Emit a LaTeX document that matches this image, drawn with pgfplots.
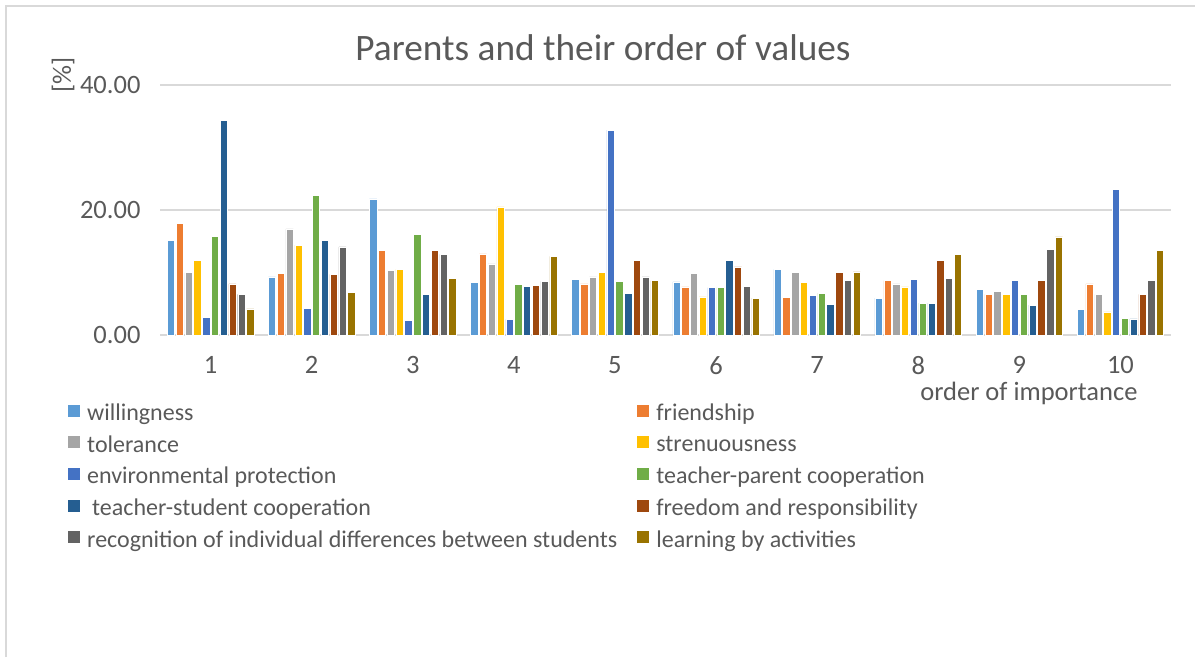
\documentclass[border=0pt]{standalone}
\usepackage{pgfplots}
\usepackage{pgfplotstable}
\pgfplotsset{compat=1.18}
\usepackage{fontspec}
\setmainfont{Carlito}
\definecolor{c1}{HTML}{5B9BD5}
\definecolor{c2}{HTML}{ED7D31}
\definecolor{c3}{HTML}{A5A5A5}
\definecolor{c4}{HTML}{FFC000}
\definecolor{c5}{HTML}{4472C4}
\definecolor{c6}{HTML}{70AD47}
\definecolor{c7}{HTML}{255E91}
\definecolor{c8}{HTML}{9E480E}
\definecolor{c9}{HTML}{636363}
\definecolor{c10}{HTML}{997300}
\definecolor{txt}{RGB}{89,89,89}
\definecolor{gridc}{RGB}{217,217,217}

\pgfplotstableread{
x will friend tol stren env tp ts free recog learn
1 15.1 17.9 10.0 12.0 2.8 15.8 34.3 8.2 6.5 4.2
2 9.3 9.9 17.0 14.4 4.3 22.4 15.1 9.7 14.1 6.8
3 21.8 13.5 10.3 10.5 2.3 16.1 6.5 13.5 12.9 9.1
4 8.4 13.0 11.4 20.5 2.5 8.1 7.8 8.0 8.6 12.6
5 8.9 8.2 9.3 10.0 32.8 8.6 6.7 11.9 9.3 8.7
6 8.5 7.7 9.9 6.1 7.6 7.6 11.9 10.9 7.8 5.9
7 10.5 6.0 10.0 8.4 6.3 6.7 4.9 10.0 8.8 10.1
8 5.9 8.7 8.2 7.7 8.9 5.1 5.1 12.0 9.1 12.9
9 7.3 6.5 7.0 6.5 8.7 6.5 4.8 8.7 13.7 15.7
10 4.1 8.2 6.5 3.7 23.3 2.7 2.6 6.5 8.8 13.6
}\data

\begin{document}
\begin{tikzpicture}[x=1pt,y=1pt]
\path[use as bounding box] (0,0) rectangle (1195,657);
\draw[gridc, line width=1.5pt] (6,0) -- (6,651) -- (1195,651);
\begin{axis}[
  at={(160pt,322pt)}, anchor=south west,
  scale only axis, width=1011pt, height=250pt,
  xmin=0.5, xmax=10.5, ymin=0, ymax=40,
  ybar=1.5pt, bar width=7.3pt,
  xtick={1,2,...,10}, ytick={0,20,40},
  axis line style={draw=none},
  major tick length=0pt,
  ymajorgrids, grid style={gridc, line width=1.5pt},
  tick label style={font=\fontsize{26.5}{30}\selectfont, text=txt},
  /pgf/number format/assume math mode=true,
  yticklabel style={/pgf/number format/fixed, /pgf/number format/fixed zerofill, /pgf/number format/precision=2, xshift=-16pt},
  xticklabel style={yshift=-18pt},
  legend columns=2,
  legend cell align=left,
  legend style={draw=none, fill=none, inner sep=0pt,
    at={(axis description cs:-0.091,-0.266)}, anchor=north west,
    font=\fontsize{24}{28}\selectfont, text=txt, row sep=9.5pt,
    /tikz/every even column/.append style={column sep=18pt}},
  legend image code/.code={\fill[#1, draw=none] (0pt,-4pt) rectangle (12pt,8pt); \path[draw=none, fill=none] (0pt,0pt) -- (17pt,0pt);},
  every axis plot/.append style={draw=white, line width=0.4pt},
  clip=false,
]
\addplot[fill=c1] table[x=x,y=will]{\data};
\addplot[fill=c2] table[x=x,y=friend]{\data};
\addplot[fill=c3] table[x=x,y=tol]{\data};
\addplot[fill=c4] table[x=x,y=stren]{\data};
\addplot[fill=c5] table[x=x,y=env]{\data};
\addplot[fill=c6] table[x=x,y=tp]{\data};
\addplot[fill=c7] table[x=x,y=ts]{\data};
\addplot[fill=c8] table[x=x,y=free]{\data};
\addplot[fill=c9] table[x=x,y=recog]{\data};
\addplot[fill=c10] table[x=x,y=learn]{\data};
\legend{willingness, friendship, tolerance, strenuousness, environmental protection, teacher-parent cooperation, \hspace{5pt}teacher-student cooperation, freedom and responsibility, recognition of individual differences between students, learning by activities}
\end{axis}
\node[text=txt, font=\fontsize{37.3}{42}\selectfont] at (603,609) {Parents and their order of values};
\node[text=txt, font=\fontsize{26.5}{30}\selectfont, anchor=east] at (1141,264) {order of importance};
\node[text=txt, font=\fontsize{26.5}{30}\selectfont, rotate=90] at (63,582) {[\%]};
\end{tikzpicture}
\end{document}
